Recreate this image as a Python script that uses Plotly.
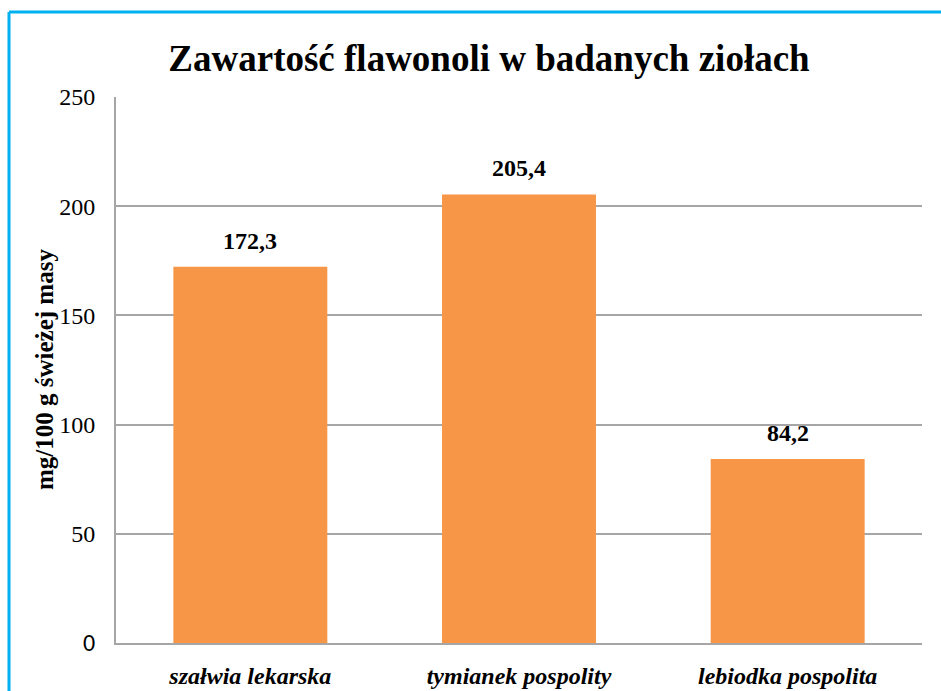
import plotly.graph_objects as go

categories = ["szalwia lekarska", "tymianek pospolity", "lebiodka pospolita"]
category_labels = ["szałwia lekarska", "tymianek pospolity", "lebiodka pospolita"]
values = [172.3, 205.4, 84.2]
y_ticks = [0, 50, 100, 150, 200, 250]
y_tick_labels = ['<span style="font-family:Carlito">0</span>', "50", "100", "150", "200", "250"]
y_title = "mg/100 g świeżej masy"
chart_title = "Zawartość flawonoli w badanych ziołach"

serif = "Liberation Serif"

fig = go.Figure()
fig.add_trace(go.Bar(
    x=categories,
    y=values,
    marker=dict(color="#F79646", line=dict(width=0)),
    hoverinfo="skip",
))

for c, v in zip(categories, values):
    fig.add_annotation(
        x=c, y=v, xref="x", yref="y",
        text="<b>" + f"{v:.1f}".replace(".", ",") + "</b>",
        showarrow=False, yanchor="bottom", yshift=11,
        font=dict(family=serif, size=24, color="#000000"),
    )

W, H = 941, 691
ml, mr, mt, mb = 116, 19, 97, 48
pw, ph = W - ml - mr, H - mt - mb

# y-axis title
fig.add_annotation(
    x=(44 - ml) / pw, y=0.5, xref="paper", yref="paper",
    text="<b>" + y_title + "</b>", textangle=-90, showarrow=False,
    xanchor="center", yanchor="middle",
    font=dict(family=serif, size=25, color="#000000"),
)

# blue frame (left and top edges)
bx = (9 - ml) / pw
by = (H - mb - 12) / ph
fig.add_shape(type="line", xref="paper", yref="paper", x0=bx, x1=bx, y0=-0.2, y1=by,
              line=dict(color="#00B0F0", width=3))
fig.add_shape(type="line", xref="paper", yref="paper", x0=bx, x1=1.2, y0=by, y1=by,
              line=dict(color="#00B0F0", width=3))

fig.update_layout(
    width=W, height=H,
    margin=dict(l=ml, r=mr, t=mt, b=mb, autoexpand=False),
    paper_bgcolor="white", plot_bgcolor="white",
    bargap=0.427,
    showlegend=False,
    font=dict(family=serif),
    title=dict(
        text="<b>" + chart_title + "</b>",
        x=(489 - ml) / pw, xref="paper", xanchor="center",
        y=1 - 58 / H, yref="container", yanchor="middle",
        font=dict(family=serif, size=37, color="#000000"),
    ),
    xaxis=dict(
        tickmode="array", tickvals=categories,
        ticktext=["<b><i>" + t + "</i></b>" for t in category_labels],
        tickfont=dict(family=serif, size=24, color="#000000"),
        showline=True, linecolor="#A6A6A6", linewidth=2,
        ticks="", showgrid=False, automargin=False,
        ticklabelstandoff=10,
    ),
    yaxis=dict(
        range=[0, 250],
        tickmode="array", tickvals=y_ticks, ticktext=y_tick_labels,
        tickfont=dict(family=serif, size=24, color="#000000"),
        showline=True, linecolor="#A6A6A6", linewidth=2,
        showgrid=True, gridcolor="#A6A6A6", gridwidth=1.5,
        ticks="", ticklen=0, automargin=False,
        zeroline=False, ticklabelstandoff=14,
    ),
)

fig.write_html("out.html", config={"displayModeBar": False},
               post_script="document.body.style.margin='0px';document.body.style.padding='0px';")
